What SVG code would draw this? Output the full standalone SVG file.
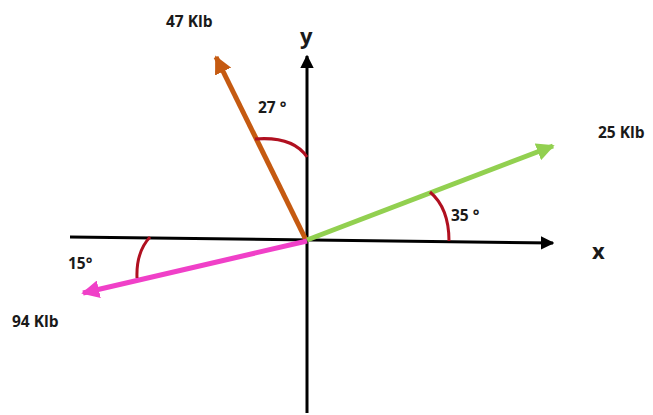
<svg xmlns="http://www.w3.org/2000/svg" width="653" height="415" viewBox="0 0 653 415">
<style>
.lbl{font-family:"Open Sans","Liberation Sans",sans-serif;font-weight:bold;font-size:15.5px;fill:#1a1a1a}
.ax{font-family:"Open Sans","Liberation Sans",sans-serif;font-weight:bold;font-size:22px;fill:#1a1a1a}
.arc{fill:none;stroke:#B01020;stroke-width:3}
</style>
<defs>
<marker id="mb" viewBox="0 0 10 10" refX="9" refY="5" markerWidth="4.5" markerHeight="4.5" markerUnits="strokeWidth" orient="auto"><path d="M0,0 L10,5 L0,10 Z" fill="#000"/></marker>
<marker id="mo" viewBox="0 0 10 10" refX="9" refY="5" markerWidth="3.6" markerHeight="3.6" markerUnits="strokeWidth" orient="auto"><path d="M0,0 L10,5 L0,10 Z" fill="#C55A11"/></marker>
<marker id="mg" viewBox="0 0 10 10" refX="9" refY="5" markerWidth="3.6" markerHeight="3.6" markerUnits="strokeWidth" orient="auto"><path d="M0,0 L10,5 L0,10 Z" fill="#92D050"/></marker>
<marker id="mp" viewBox="0 0 10 10" refX="9" refY="5" markerWidth="3.6" markerHeight="3.6" markerUnits="strokeWidth" orient="auto"><path d="M0,0 L10,5 L0,10 Z" fill="#F040C8"/></marker>
</defs>
<g id="connectors">
<line id="x-axis" x1="70" y1="237" x2="553" y2="243" stroke="#000" stroke-width="3" marker-end="url(#mb)"/>
<line id="y-axis" x1="307" y1="413" x2="307" y2="56" stroke="#000" stroke-width="3" marker-end="url(#mb)"/>
<line id="f47" x1="306" y1="240" x2="216" y2="57" stroke="#C55A11" stroke-width="5" marker-end="url(#mo)"/>
<line id="f25" x1="307" y1="240" x2="553" y2="146" stroke="#92D050" stroke-width="5" marker-end="url(#mg)"/>
<line id="f94" x1="307" y1="241" x2="83" y2="293" stroke="#F040C8" stroke-width="5" marker-end="url(#mp)"/>
<path class="arc" d="M255,139 Q293,136 307,157"/>
<path class="arc" d="M430,192 Q449,208 449,241"/>
<path class="arc" d="M150,237 Q136,252 137,278"/>
</g>
<g id="labels">
<text class="lbl" x="166" y="27">47 Klb</text>
<text class="ax" x="300" y="44">y</text>
<text class="lbl" x="258" y="113">27 °</text>
<text class="lbl" x="598" y="138">25 Klb</text>
<text class="lbl" x="451" y="221">35 °</text>
<text class="ax" x="592" y="259">x</text>
<text class="lbl" x="68" y="269">15°</text>
<text class="lbl" x="12" y="327">94 Klb</text>
</g>
</svg>
